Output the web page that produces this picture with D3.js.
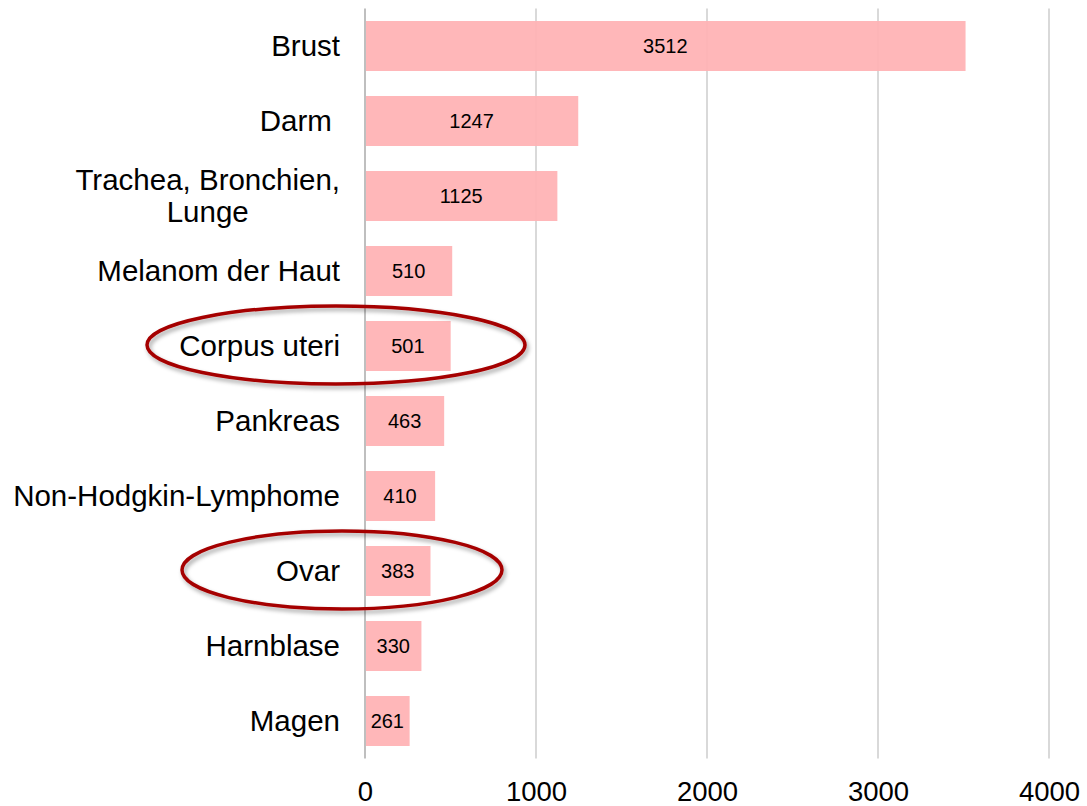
<!DOCTYPE html>
<html>
<head>
<meta charset="utf-8">
<script src="https://cdn.jsdelivr.net/npm/d3@7"></script>
<style>
  body { margin: 0; background: #fff; }
  svg { display: block; font-family: "Liberation Sans", Arial, sans-serif; }
</style>
</head>
<body>
<div id="chart"></div>
<script>
// Data
const categories = [
    "Brust",
    "Darm ",
    "Trachea, Bronchien,\nLunge",
    "Melanom der Haut",
    "Corpus uteri",
    "Pankreas",
    "Non-Hodgkin-Lymphome",
    "Ovar",
    "Harnblase",
    "Magen"
];
const values = [3512, 1247, 1125, 510, 501, 463, 410, 383, 330, 261];
const xTicks = [0, 1000, 2000, 3000, 4000];
const highlighted = ["Corpus uteri", "Ovar"];

// Layout
const width = 1087, height = 806;
const plot = { left: 365, right: 1049, top: 8.5, bottom: 758.5 };
// ellipse geometry for the highlighted labels
const ellipseStyle = {
    "Corpus uteri": { cx: 336, rx: 189, ry: 39 },
    "Ovar": { cx: 342, rx: 160, ry: 39 }
};

const svg = d3.select('#chart')
    .append('svg')
    .attr('width', width)
    .attr('height', height);

const defs = svg.append('defs');
const shadow = defs.append('filter')
    .attr('id', 'shadow')
    .attr('x', '-10%').attr('y', '-30%')
    .attr('width', '120%').attr('height', '160%');
shadow.append('feDropShadow')
    .attr('dx', 2).attr('dy', 3)
    .attr('stdDeviation', 2)
    .attr('flood-color', '#000')
    .attr('flood-opacity', 0.35);

// Scales
const x = d3.scaleLinear()
    .domain([0, 4000])
    .range([plot.left, plot.right]);

const y = d3.scaleBand()
    .domain(categories)
    .range([plot.top, plot.bottom])
    .paddingInner(1 / 3)
    .paddingOuter(1 / 6);

// Gridlines
svg.append('g')
    .selectAll('line')
    .data(xTicks.filter(d => d > 0))
    .join('line')
    .attr('x1', d => x(d))
    .attr('x2', d => x(d))
    .attr('y1', plot.top)
    .attr('y2', plot.bottom)
    .attr('stroke', '#d9d9d9')
    .attr('stroke-width', 2);

// Bars
const data = categories.map((c, i) => ({ category: c, value: values[i] }));

svg.append('g')
    .selectAll('rect')
    .data(data)
    .join('rect')
    .attr('x', x(0))
    .attr('y', d => y(d.category))
    .attr('width', d => x(d.value) - x(0))
    .attr('height', y.bandwidth())
    .attr('fill', '#ffb1b4')
    .attr('fill-opacity', 0.93);

// Vertical axis line at zero
svg.append('line')
    .attr('x1', x(0))
    .attr('x2', x(0))
    .attr('y1', plot.top)
    .attr('y2', plot.bottom)
    .attr('stroke', '#bfbfbf')
    .attr('stroke-width', 2);

// Value labels
svg.append('g')
    .selectAll('text')
    .data(data)
    .join('text')
    .attr('x', d => (x(0) + x(d.value)) / 2)
    .attr('y', d => y(d.category) + y.bandwidth() / 2)
    .attr('dy', '0.35em')
    .attr('text-anchor', 'middle')
    .attr('font-size', '20px')
    .attr('fill', '#000')
    .text(d => d.value);

// X axis tick labels
const xAxis = d3.axisBottom(x)
    .tickValues(xTicks)
    .tickFormat(d3.format('d'))
    .tickSize(0)
    .tickPadding(23);

const xg = svg.append('g')
    .attr('transform', `translate(0,${plot.bottom})`)
    .call(xAxis);
xg.select('.domain').remove();
xg.selectAll('text')
    .attr('font-size', '27.5px')
    .attr('font-family', '"Liberation Sans", Arial, sans-serif')
    .attr('fill', '#000');

// Category labels (right aligned, multi-line centred on each other)
const labelX = x(0) - 25;
const lineHeight = 32;
svg.append('g')
    .selectAll('text')
    .data(categories)
    .join('text')
    .attr('font-size', '29.5px')
    .attr('fill', '#000')
    .style('white-space', 'pre')
    .each(function (d) {
        const lines = d.split('\n');
        const t = d3.select(this);
        const cy = y(d) + y.bandwidth() / 2;
        const spans = lines.map((line, i) => t.append('tspan')
            .attr('y', cy + (i - (lines.length - 1) / 2) * lineHeight)
            .attr('dy', '0.35em')
            .text(line));
        const widths = spans.map(s => s.node().getComputedTextLength());
        const maxW = d3.max(widths);
        const centre = labelX - maxW / 2;
        spans.forEach(s => s
            .attr('x', lines.length > 1 ? centre : labelX)
            .attr('text-anchor', lines.length > 1 ? 'middle' : 'end'));
    });

// Highlight ellipses
svg.append('g')
    .selectAll('ellipse')
    .data(highlighted)
    .join('ellipse')
    .attr('cx', d => ellipseStyle[d].cx)
    .attr('cy', d => y(d) + y.bandwidth() / 2 - 1)
    .attr('rx', d => ellipseStyle[d].rx)
    .attr('ry', d => ellipseStyle[d].ry)
    .attr('fill', 'none')
    .attr('stroke', '#a50000')
    .attr('stroke-width', 3.5)
    .attr('filter', 'url(#shadow)');
</script>
</body>
</html>
